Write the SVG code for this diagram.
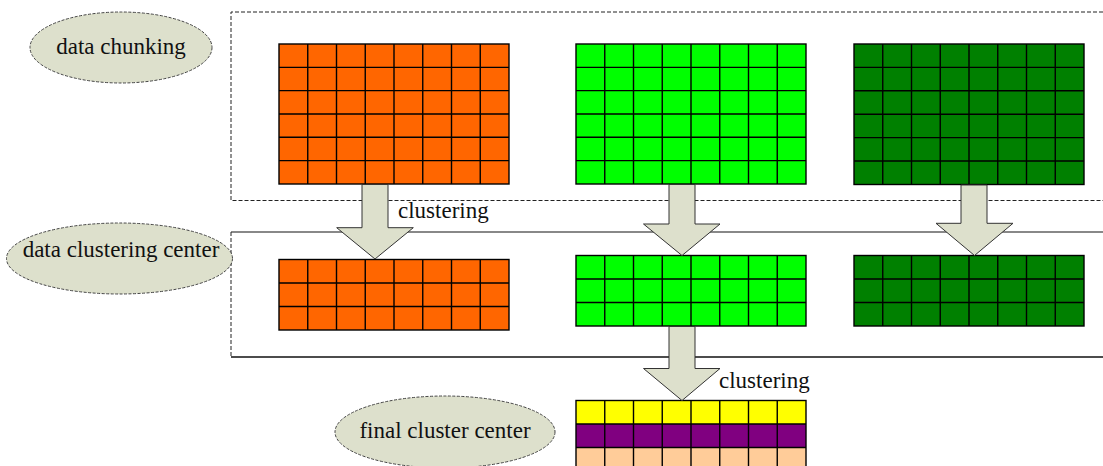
<svg xmlns="http://www.w3.org/2000/svg" width="1103" height="466" viewBox="0 0 1103 466">
<defs>
<style>
text{font-family:'Liberation Serif','DejaVu Serif',serif;font-size:23px;fill:#111;}
.ell{fill:#DDE0CC;stroke:#444;stroke-width:1;stroke-dasharray:3 1.5;}
.cells{fill:none;stroke:#000;stroke-width:1.4;}
.frame{fill:none;stroke:#000;stroke-width:1.4;}
.arrow{fill:#DDE0CC;stroke:#333;stroke-width:1;stroke-linejoin:miter;}
.dash{fill:none;stroke:#222;stroke-width:1;stroke-dasharray:4 2;}
</style>
</defs>
<rect width="1103" height="466" fill="#fff"/>
<g id="boxes">
<path class="dash" d="M1103,12 H231 V200.5 H1103"/>
<path d="M231,232 H1103" stroke="#888" stroke-width="2" fill="none"/>
<path class="dash" d="M231,232 V357"/>
<path d="M231,357 H1103" stroke="#111" stroke-width="1.5" fill="none"/>
</g>
<g id="label-data-chunking">
<ellipse class="ell" cx="121" cy="47.5" rx="91" ry="35.5"/>
<text font-family="Liberation Serif, serif" x="121" y="54" text-anchor="middle">data chunking</text>
</g>
<g id="label-data-clustering-center">
<ellipse class="ell" cx="119.5" cy="258.5" rx="113" ry="35.5"/>
<text font-family="Liberation Serif, serif" x="121" y="257" text-anchor="middle">data clustering center</text>
</g>
<g id="label-final-cluster-center">
<ellipse class="ell" cx="445" cy="432" rx="110" ry="36"/>
<text font-family="Liberation Serif, serif" x="445" y="438" text-anchor="middle">final cluster center</text>
</g>
<g id="chunk-orange">
<rect x="279" y="44" width="230" height="140" fill="#FF6600"/>
<path class="cells" d="M307.75,44 v140 m28.75,-140 v140 m28.75,-140 v140 m28.75,-140 v140 m28.75,-140 v140 m28.75,-140 v140 m28.75,-140 v140 M279,67.33 h230 m-230,23.33 h230 m-230,23.33 h230 m-230,23.33 h230 m-230,23.33 h230"/>
<rect class="frame" x="279" y="44" width="230" height="140"/>
</g>
<g id="chunk-green">
<rect x="576" y="44" width="230" height="140" fill="#00FF00"/>
<path class="cells" d="M604.75,44 v140 m28.75,-140 v140 m28.75,-140 v140 m28.75,-140 v140 m28.75,-140 v140 m28.75,-140 v140 m28.75,-140 v140 M576,67.33 h230 m-230,23.33 h230 m-230,23.33 h230 m-230,23.33 h230 m-230,23.33 h230"/>
<rect class="frame" x="576" y="44" width="230" height="140"/>
</g>
<g id="chunk-darkgreen">
<rect x="854" y="44" width="230" height="140.5" fill="#008000"/>
<path class="cells" d="M882.75,44 v140.5 m28.75,-140.5 v140.5 m28.75,-140.5 v140.5 m28.75,-140.5 v140.5 m28.75,-140.5 v140.5 m28.75,-140.5 v140.5 m28.75,-140.5 v140.5 M854,67.4 h230 m-230,23.4 h230 m-230,23.4 h230 m-230,23.4 h230 m-230,23.4 h230"/>
<rect class="frame" x="854" y="44" width="230" height="140.5"/>
</g>
<g id="center-orange">
<rect x="279" y="259.5" width="230" height="70.5" fill="#FF6600"/>
<path class="cells" d="M307.75,259.5 v70.5 m28.75,-70.5 v70.5 m28.75,-70.5 v70.5 m28.75,-70.5 v70.5 m28.75,-70.5 v70.5 m28.75,-70.5 v70.5 m28.75,-70.5 v70.5 M279,283 h230 m-230,23.5 h230"/>
<rect class="frame" x="279" y="259.5" width="230" height="70.5"/>
</g>
<g id="center-green">
<rect x="576" y="255.5" width="230" height="70.5" fill="#00FF00"/>
<path class="cells" d="M604.75,255.5 v70.5 m28.75,-70.5 v70.5 m28.75,-70.5 v70.5 m28.75,-70.5 v70.5 m28.75,-70.5 v70.5 m28.75,-70.5 v70.5 m28.75,-70.5 v70.5 M576,279 h230 m-230,23.5 h230"/>
<rect class="frame" x="576" y="255.5" width="230" height="70.5"/>
</g>
<g id="center-darkgreen">
<rect x="854" y="255.5" width="230" height="70.5" fill="#008000"/>
<path class="cells" d="M882.75,255.5 v70.5 m28.75,-70.5 v70.5 m28.75,-70.5 v70.5 m28.75,-70.5 v70.5 m28.75,-70.5 v70.5 m28.75,-70.5 v70.5 m28.75,-70.5 v70.5 M854,279 h230 m-230,23.5 h230"/>
<rect class="frame" x="854" y="255.5" width="230" height="70.5"/>
</g>
<g id="final-center">
<rect x="576" y="400.5" width="230" height="23.5" fill="#FFFF00"/>
<rect x="576" y="424" width="230" height="23.5" fill="#800080"/>
<rect x="576" y="447.5" width="230" height="23.5" fill="#FFCC99"/>
<path class="cells" d="M604.75,400.5 v70.5 m28.75,-70.5 v70.5 m28.75,-70.5 v70.5 m28.75,-70.5 v70.5 m28.75,-70.5 v70.5 m28.75,-70.5 v70.5 m28.75,-70.5 v70.5 M576,424 h230 m-230,23.5 h230"/>
<rect class="frame" x="576" y="400.5" width="230" height="70.5"/>
</g>
<g id="connectors">
<path class="arrow" d="M362,184.5 H388 V227.7 H413.3 L375,259 L336.7,227.7 H362 Z"/>
<path class="arrow" d="M669,184.5 H695 V224 H720 L682,255.5 L643.5,224 H669 Z"/>
<path class="arrow" d="M961,185 H987 V223.3 H1013 L974.5,255.5 L936,223.3 H961 Z"/>
<path class="arrow" d="M669,326.5 H695 V368.5 H720 L682,400.5 L643.5,368.5 H669 Z"/>
<text font-family="Liberation Serif, serif" x="398" y="218">clustering</text>
<text font-family="Liberation Serif, serif" x="719" y="388">clustering</text>
</g>
</svg>
